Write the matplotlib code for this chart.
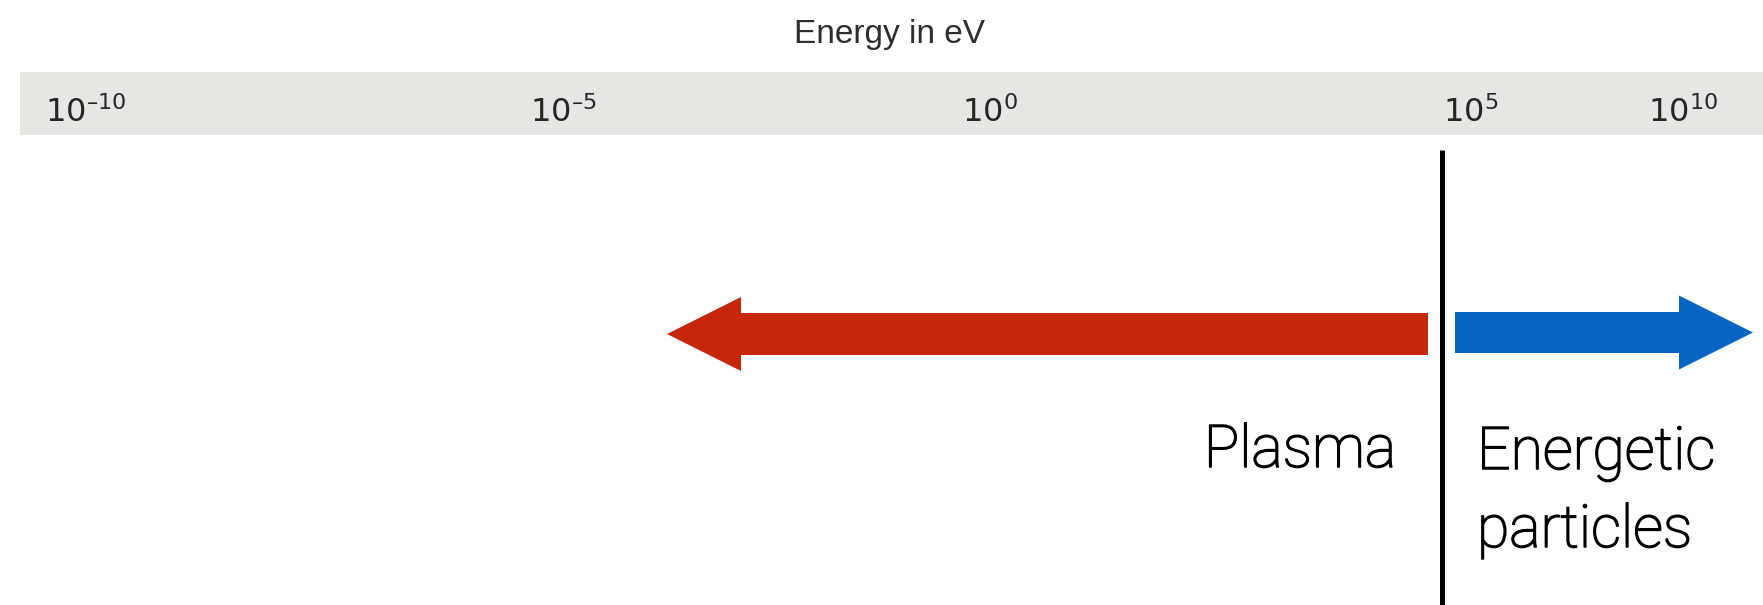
import matplotlib.pyplot as plt
import matplotlib.patheffects as pe
from matplotlib.patches import FancyArrow, Rectangle

plt.rcParams['mathtext.fontset'] = 'custom'
plt.rcParams['mathtext.rm'] = 'Liberation Sans'

# energy scale labels (exponents of 10, in eV) and where they sit along the bar
exponents = [-10, -5, 0, 5, 10]
label_x = [45, 530, 962, 1443, 1648]

# boundary between plasma and energetic particles (~1e5 eV)
boundary_x = 1442

# arrow extents (x start, x end)
plasma_arrow = (1428, 667)
energetic_arrow = (1455, 1753)

W, H = 1763, 605
fig = plt.figure(figsize=(W / 100, H / 100), dpi=100)
ax = fig.add_axes([0, 0, 1, 1])
ax.set_xlim(0, W)
ax.set_ylim(H, 0)
ax.axis('off')

# grey scale bar
ax.add_patch(Rectangle((20, 72), W - 20, 63, color='#e6e6e2', lw=0))
ax.text(890, 43, 'Energy in eV', ha='center', va='baseline',
        fontsize=24, family='Liberation Sans', color='#2e2e2e')

for e, x in zip(exponents, label_x):
    lab = r'$\mathregular{10^{%s}}$' % str(e).replace('-', '\u2013')
    ax.text(x, 122, lab, ha='left', va='baseline', fontsize=23, color='#262626')

# divider
ax.plot([boundary_x, boundary_x], [150, H], color='black', lw=3.6,
        solid_capstyle='butt')

# arrows
ax.add_patch(FancyArrow(plasma_arrow[0], 334, plasma_arrow[1] - plasma_arrow[0], 0,
                        width=42, head_width=74, head_length=74,
                        length_includes_head=True, color='#c8260a', lw=0))
ax.add_patch(FancyArrow(energetic_arrow[0], 332.5, energetic_arrow[1] - energetic_arrow[0], 0,
                        width=41, head_width=74, head_length=74,
                        length_includes_head=True, color='#0565c0', lw=0))

# Roboto Light thickened a little to get close to a Helvetica Neue Light look
thick = [pe.withStroke(linewidth=1.1, foreground='black')]
txt = dict(fontsize=42.5, family='Roboto', fontweight='light', color='black',
           path_effects=thick)
ax.text(1396, 467, 'Plasma', ha='right', va='baseline', **txt)
ax.text(1477, 469, 'Energetic', ha='left', va='baseline', **txt)
ax.text(1477, 547, 'particles', ha='left', va='baseline', **txt)

fig.savefig('out.png', dpi=100, facecolor='white')
